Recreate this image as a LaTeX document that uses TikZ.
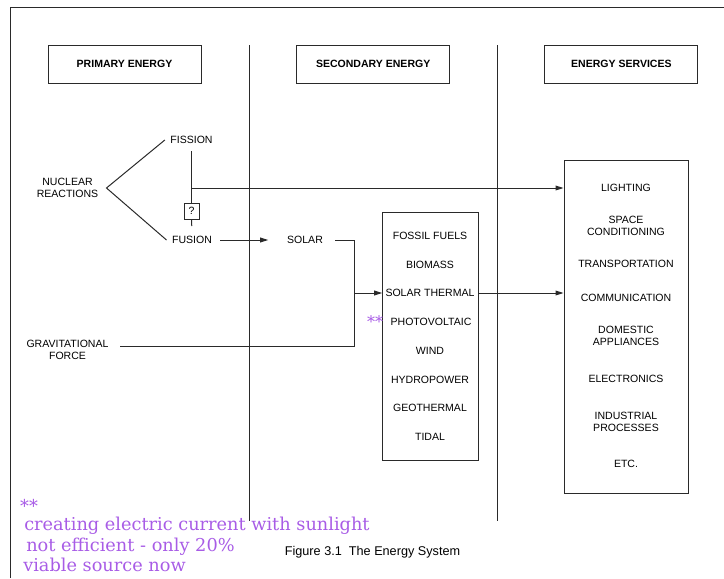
\documentclass[tikz,border=0pt]{standalone}
\usepackage{fontspec}
\setmainfont{Liberation Sans}
\newfontfamily\purpfont{DejaVu Serif}
\usetikzlibrary{arrows.meta}
\definecolor{lin}{HTML}{2A2A2A}
\definecolor{purp}{HTML}{A85CE6}
\begin{document}
\begin{tikzpicture}[x=0.75pt,y=-0.75pt,
  lbl/.style={font=\fontsize{7.9}{9}\selectfont, align=center, inner xsep=4pt, inner ysep=3pt},
  hdr/.style={draw=lin, line width=0.75pt, font=\fontsize{7.9}{9}\selectfont\bfseries, minimum width=114.75pt, minimum height=28.5pt},
  ln/.style={draw=lin, line width=0.75pt},
  arr/.style={ln, -{Triangle[length=6pt,width=3.6pt]}},
  boxx/.style={draw=lin, line width=0.75pt, inner sep=0pt},
  ann/.style={font=\purpfont\fontsize{13.3}{15}\selectfont, text=purp, anchor=base west, inner sep=0pt}
]
\useasboundingbox (0,0) rectangle (724,578);
% frame (only top and left edges visible)
\coordinate (fbl) at (10,578);
\coordinate (ftl) at (10,7);
\coordinate (ftr) at (724,7);
\draw[ln] (fbl) -- (ftl) -- (ftr);

% headers
\node[hdr] (h1) at (124.5,64) {PRIMARY ENERGY};
\node[hdr] (h2) at (373.2,64) {SECONDARY ENERGY};
\node[hdr] (h3) at (621.4,64) {ENERGY SERVICES};

% dividers
\coordinate (d1t) at (249,45); \coordinate (d1b) at (249,521);
\coordinate (d2t) at (497,45); \coordinate (d2b) at (497,521);
\draw[ln] (d1t) -- (d1b);
\draw[ln] (d2t) -- (d2b);

% boxes
\node[boxx, minimum width=71.5pt, minimum height=186pt] (sec) at (430.35,336) {};
\node[boxx, minimum width=93pt, minimum height=249.75pt] (serv) at (626,326.5) {};

% primary energy
\node[lbl, inner xsep=6pt] (nuc) at (67.5,188) {NUCLEAR\\REACTIONS};
\node[lbl] (fis) at (191.5,140) {FISSION};
\node[lbl] (fus) at (192,240) {FUSION};
\node[lbl] (grav) at (67.5,350) {GRAVITATIONAL\\FORCE};
\node[lbl] (sol) at (305,240) {SOLAR};

\draw[ln] (fis.west) -- (nuc.east) -- (fus.west);
\draw[ln, shorten <=2.5pt] (fis.south) -- (191.5,203);
\draw[ln, shorten >=4.5pt] (191.5,219) -- (fus.north);
\node[boxx, fill=white, font=\fontsize{7.9}{9}\selectfont, minimum width=11.25pt, minimum height=12pt] (q) at (191.5,211) {?};

\coordinate (j1) at (191.5,188);
\draw[arr] (j1) -- (j1 -| serv.west);

\draw[arr, shorten <=2pt, shorten >=10pt] (fus.east) -- (sol.west);

\coordinate (sj) at (354,293);
\coordinate (gb) at (354,346);
\draw[ln, shorten <=5pt, shorten >=4.3pt] (sol.east) -| (gb) -- (gb -| grav.east);
\draw[arr] (sj) -- (sj -| sec.west);

% secondary energy items
\node[lbl] (s1) at (430,236) {FOSSIL FUELS};
\node[lbl] (s2) at (430,264.5) {BIOMASS};
\node[lbl] (s3) at (430,293) {SOLAR THERMAL};
\node[lbl] (s4) at (431,322) {PHOTOVOLTAIC};
\node[lbl] (s5) at (430,351) {WIND};
\node[lbl] (s6) at (430,379.5) {HYDROPOWER};
\node[lbl] (s7) at (430,408) {GEOTHERMAL};
\node[lbl] (s8) at (430,437) {TIDAL};
\node[font=\purpfont\fontsize{12}{12}\selectfont, text=purp, inner sep=0pt] (ast) at (375,322) {**};

\draw[arr] (s3.east -| sec.east) -- (s3.east -| serv.west);

% energy services items
\node[lbl] (e1) at (626,188) {LIGHTING};
\node[lbl] (e2) at (626,226) {SPACE\\CONDITIONING};
\node[lbl] (e3) at (626,264) {TRANSPORTATION};
\node[lbl] (e4) at (626,298) {COMMUNICATION};
\node[lbl] (e5) at (626,335.5) {DOMESTIC\\APPLIANCES};
\node[lbl] (e6) at (626,379) {ELECTRONICS};
\node[lbl] (e7) at (626,422) {INDUSTRIAL\\PROCESSES};
\node[lbl] (e8) at (626,464) {ETC.};

% caption
\node[font=\fontsize{9.5}{11}\selectfont, inner sep=0pt] (cap) at (372.5,552) {Figure 3.1\ \ The Energy System};

% annotation
\node[font=\purpfont\fontsize{13.3}{13.3}\selectfont, text=purp, inner sep=0pt] (a0) at (29,506) {**};
\node[ann] (a1) at (24,530) {creating electric current with sunlight};
\node[ann] (a2) at (26,551.5) {not efficient - only 20\%};
\node[ann] (a3) at (23,571.5) {viable source now};
\end{tikzpicture}
\end{document}
